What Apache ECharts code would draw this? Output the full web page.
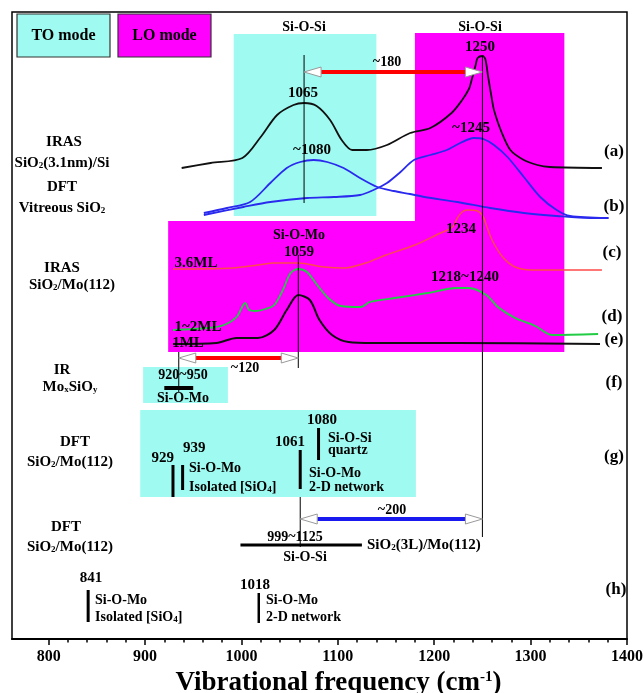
<!DOCTYPE html>
<html><head><meta charset="utf-8">
<script src="https://cdn.jsdelivr.net/npm/echarts@6/dist/echarts.min.js"></script>
<style>html,body{margin:0;padding:0;background:#fff}#c{width:644px;height:693px}</style>
</head><body><div id="c"></div>
<script>
// ---------- axis ----------
const X_MIN = 762, X_MAX = 1400;
const majorTicks = [800, 900, 1000, 1100, 1200, 1300, 1400];
const minorTicks = [820, 840, 860, 880, 920, 940, 960, 980, 1020, 1040, 1060, 1080,
  1120, 1140, 1160, 1180, 1220, 1240, 1260, 1280, 1320, 1340, 1360, 1380];

// ---------- spectra (wavenumber / relative intensity) ----------
// (a) IRAS SiO2(3.1nm)/Si
const aX = [938, 968, 1001, 1020, 1037, 1054, 1065, 1078, 1092, 1104, 1115, 1130, 1151, 1175, 1196, 1218, 1229, 1236, 1238, 1243, 1245, 1250, 1253, 1256, 1260, 1262, 1269, 1279, 1293, 1307, 1320, 1374];
const aY = [1, 6, 11, 32, 54, 64, 66, 63, 49, 29, 19, 19, 24, 36, 41, 56, 69, 80, 86, 104, 111, 113, 110, 92, 69, 59, 39, 19, 9, 4, 2, 1];
// (b) DFT vitreous SiO2, TO band
const b1X = [961, 985, 1009, 1030, 1047, 1061, 1075, 1089, 1106, 1123, 1141, 1158, 1175, 1190, 1224, 1258, 1293, 1327, 1362, 1381];
const b1Y = [5, 10, 16, 35, 50, 56, 58, 56, 50, 40, 31, 27, 24, 21, 16, 10, 5, 2, 0, 0];
// (b) DFT vitreous SiO2, LO band
const b2X = [961, 1002, 1030, 1068, 1096, 1123, 1137, 1151, 1165, 1179, 1196, 1213, 1227, 1241, 1251, 1262, 1276, 1293, 1310, 1327, 1341, 1379];
const b2Y = [3, 11, 16, 20, 21, 23, 28, 35, 46, 58, 63, 68, 75, 80, 79, 73, 61, 41, 21, 8, 2, 0];
// (c) IRAS 3.6 ML SiO2/Mo(112)
const cX = [929, 991, 1017, 1034, 1059, 1086, 1107, 1129, 1150, 1180, 1202, 1219, 1224, 1229, 1234, 1245, 1251, 1254, 1260, 1271, 1284, 1301, 1374];
const cY = [1, 2, 5, 7, 7, 3, 2, 7, 15, 25, 35, 43, 52, 58, 60, 59, 53, 45, 30, 13, 3, 0, 0];
// (d) IRAS 1~2 ML SiO2/Mo(112)
const dX = [929, 965, 982, 995, 1004, 1008, 1015, 1025, 1034, 1043, 1051, 1059, 1068, 1077, 1090, 1103, 1124, 1133, 1159, 1193, 1223, 1236, 1254, 1266, 1284, 1305, 1322, 1370];
const dY = [5, 7, 10, 18, 32, 25, 24, 26, 30, 45, 62, 66, 63, 52, 37, 29, 28, 33, 37, 42, 47, 47, 40, 28, 17, 9, 0, 1];
// (e) IRAS 1 ML SiO2/Mo(112)
const eX = [929, 974, 995, 1017, 1034, 1047, 1059, 1071, 1081, 1094, 1111, 1137, 1223, 1372];
const eY = [0, 1, 6, 6, 14, 34, 49, 44, 24, 9, 2, 1, 1, 0];

// vertical stacking of the traces (a.u.)
const baseline = { a: 470, b: 421, c: 369, d: 304, e: 295 };

// ---------- shaded mode regions [x0, x1, yLow, yHigh] ----------
const areaSpans = [[992, 1140, 423, 605], [1180, 1335, 418, 606], [924, 1335, 287, 418], [898, 986, 236, 272], [895, 1181, 142, 229]];
const areaModes = ['TO', 'LO', 'LO', 'TO', 'TO'];

// ---------- reference lines and band sticks [x0, y0, x1, y1] ----------
const stickPos = [
  [1065, 584, 1065, 436], [1250, 583, 1250, 102], [1059, 384, 1059, 271], [935, 287, 935, 247], [1061, 142, 1061, 92],
  [929, 174, 929, 142], [939, 174, 939, 149], [1061, 189, 1061, 150], [1080, 211, 1080, 179],
  [841, 49, 841, 17], [1018, 46, 1018, 16], [920, 251, 950, 251], [999, 94, 1125, 94]
];
const stickWidth = [1, 1, 1, 1, 1, 3, 3, 3, 3, 3, 2.5, 4, 3];

// ---------- TO-LO splitting arrows [from, to, level] ----------
const arrowPos = [[1065, 1250, 567], [935, 1059, 281], [1061, 1250, 120]];
const arrowColor = ['#ff0000', '#ff0000', '#1a1aee'];

const CYAN = '#9ffbf1', MAGENTA = '#ff00ff';
const FONT = "'Liberation Serif','Times New Roman',serif";

const trace = (xs, ys, off) => xs.map((x, i) => [x, ys[i] + off]);
function lineSeries(name, xs, ys, off, color, w) {
  return { name, type: 'line', data: trace(xs, ys, off), showSymbol: false, smooth: 0.3,
    lineStyle: { color, width: w }, z: 4, silent: true };
}

// ---------- text annotations [text, x, y, align, size] ----------
const notes = [
  ['Si-O-Si', 304, 27, 'center', 14], ['Si-O-Si', 480, 27, 'center', 14], ['1250', 480, 47, 'center', 15],
  ['~180', 387, 62, 'center', 14], ['1065', 303, 93, 'center', 15], ['~1080', 312, 150, 'center', 15],
  ['~1245', 471, 128, 'center', 15],
  ['IRAS', 64, 142, 'center', 15], ['SiO{s|2}(3.1nm)/Si', 62, 163, 'center', 15],
  ['DFT', 62, 187, 'center', 15], ['Vitreous SiO{s|2}', 62, 208, 'center', 15],
  ['(a)', 614, 152, 'center', 17], ['(b)', 614, 207, 'center', 17],
  ['Si-O-Mo', 299, 235, 'center', 14], ['1059', 299, 252, 'center', 15], ['1234', 461, 229, 'center', 15],
  ['3.6ML', 196, 263, 'center', 15], ['1218~1240', 465, 277, 'center', 15],
  ['IRAS', 62, 268, 'center', 15], ['SiO{s|2}/Mo(112)', 72, 285, 'center', 15],
  ['1~2ML', 198, 327, 'center', 15], ['1ML', 188, 343, 'center', 15],
  ['(c)', 612, 253, 'center', 17], ['(d)', 612, 317, 'center', 17], ['(e)', 614, 340, 'center', 17],
  ['~120', 245, 368, 'center', 14], ['IR', 62, 370, 'center', 15], ['Mo{s|x}SiO{s|y}', 70, 387, 'center', 15],
  ['920~950', 183, 375, 'center', 14], ['Si-O-Mo', 183, 398, 'center', 14], ['(f)', 614, 383, 'center', 17],
  ['1080', 322, 420, 'center', 15], ['Si-O-Si', 328, 438, 'left', 14], ['quartz', 328, 450, 'left', 14],
  ['1061', 305, 442, 'right', 15], ['929', 174, 458, 'right', 15], ['939', 183, 448, 'left', 15],
  ['Si-O-Mo', 189, 468, 'left', 14], ['Isolated [SiO{s|4}]', 189, 487, 'left', 14],
  ['Si-O-Mo', 309, 473, 'left', 14], ['2-D network', 309, 487, 'left', 14],
  ['DFT', 75, 442, 'center', 15], ['SiO{s|2}/Mo(112)', 70, 462, 'center', 15], ['(g)', 614, 457, 'center', 17],
  ['~200', 392, 510, 'center', 14], ['DFT', 66, 527, 'center', 15], ['SiO{s|2}/Mo(112)', 70, 547, 'center', 15],
  ['999~1125', 295, 537, 'center', 14], ['Si-O-Si', 305, 557, 'center', 14],
  ['SiO{s|2}(3L)/Mo(112)', 367, 545, 'left', 15], ['(h)', 616, 590, 'center', 17],
  ['841', 91, 578, 'center', 15], ['Si-O-Mo', 95, 600, 'left', 14], ['Isolated [SiO{s|4}]', 95, 617, 'left', 14],
  ['1018', 255, 585, 'center', 15], ['Si-O-Mo', 266, 600, 'left', 14], ['2-D network', 266, 617, 'left', 14]
];

function textEl(n) {
  const [text, x, y, align, size] = n;
  return { type: 'text', x, y, z: 20, silent: true,
    style: { text, fill: '#000', fontFamily: FONT, fontWeight: 'bold', fontSize: size,
      align, verticalAlign: 'middle',
      rich: { s: { fontFamily: FONT, fontWeight: 'bold', fontSize: Math.round(size * 0.62), verticalAlign: 'bottom' } } } };
}

function legendBox(label, x, fill) {
  return { type: 'group', z: 20, silent: true, children: [
    { type: 'rect', shape: { x, y: 14, width: 93, height: 43 }, style: { fill, stroke: '#333', lineWidth: 1.2 } },
    { type: 'text', x: x + 46.5, y: 36, style: { text: label, fill: '#000', fontFamily: FONT, fontWeight: 'bold', fontSize: 16, align: 'center', verticalAlign: 'middle' } }
  ] };
}

const chart = echarts.init(document.getElementById('c'));
chart.setOption({
  animation: false,
  grid: { left: 12, right: 17, top: 12, bottom: 54, containLabel: false, outerBoundsMode: 'none',
    show: true, borderColor: '#000', borderWidth: 1.5 },
  xAxis: [{
    type: 'value', min: X_MIN, max: X_MAX, position: 'bottom',
    axisLine: { show: true, lineStyle: { color: '#000', width: 2 } },
    axisTick: { show: true, customValues: majorTicks, length: 6, lineStyle: { color: '#000', width: 1.5 } },
    axisLabel: { customValues: majorTicks, formatter: v => String(v), margin: 10, color: '#000',
      fontFamily: FONT, fontWeight: 'bold', fontSize: 16 },
    splitLine: { show: false },
    name: 'Vibrational frequency (cm{sup|-1})', nameLocation: 'middle', nameGap: 25,
    nameTextStyle: { color: '#000', fontFamily: FONT, fontWeight: 'bold', fontSize: 27, padding: [0, 0, 0, 38],
      rich: { sup: { fontFamily: FONT, fontWeight: 'bold', fontSize: 15, verticalAlign: 'top' } } }
  }, {
    type: 'value', min: X_MIN, max: X_MAX, position: 'bottom',
    axisLine: { show: false },
    axisTick: { show: true, customValues: minorTicks, length: 3.5, lineStyle: { color: '#000', width: 1.5 } },
    axisLabel: { show: false }, splitLine: { show: false }
  }],
  yAxis: { type: 'value', min: 0, max: 627, show: false },
  series: [
    { type: 'custom', z: 1, silent: true, data: areaSpans,
      renderItem: (p, api) => {
        const a = api.coord([api.value(0), api.value(3)]);
        const b = api.coord([api.value(1), api.value(2)]);
        return { type: 'rect', shape: { x: a[0], y: a[1], width: b[0] - a[0], height: b[1] - a[1] },
          style: { fill: areaModes[p.dataIndex] === 'TO' ? CYAN : MAGENTA } };
      } },
    lineSeries('a', aX, aY, baseline.a, '#111', 1.8),
    lineSeries('b1', b1X, b1Y, baseline.b, '#2a2aee', 1.8),
    lineSeries('b2', b2X, b2Y, baseline.b, '#2a2aee', 1.8),
    lineSeries('c', cX, cY, baseline.c, '#ff4a4a', 1.5),
    lineSeries('d', dX, dY, baseline.d, '#22cc44', 1.8),
    lineSeries('e', eX, eY, baseline.e, '#111', 2),
    { type: 'custom', z: 6, silent: true, data: stickPos,
      renderItem: (p, api) => {
        const a = api.coord([api.value(0), api.value(1)]);
        const b = api.coord([api.value(2), api.value(3)]);
        return { type: 'line', shape: { x1: a[0], y1: a[1], x2: b[0], y2: b[1] },
          style: { stroke: '#000', lineWidth: stickWidth[p.dataIndex] } };
      } },
    { type: 'custom', z: 7, silent: true, data: arrowPos,
      renderItem: (p, api) => {
        const a = api.coord([api.value(0), api.value(2)]);
        const b = api.coord([api.value(1), api.value(2)]);
        const y = a[1], hl = 17, hh = 5;
        const head = { fill: '#fff', stroke: '#999', lineWidth: 1 };
        return { type: 'group', children: [
          { type: 'rect', shape: { x: a[0] + hl, y: y - 2, width: b[0] - a[0] - 2 * hl, height: 4 }, style: { fill: arrowColor[p.dataIndex] } },
          { type: 'polygon', shape: { points: [[a[0], y], [a[0] + hl, y - hh], [a[0] + hl, y + hh]] }, style: head },
          { type: 'polygon', shape: { points: [[b[0], y], [b[0] - hl, y - hh], [b[0] - hl, y + hh]] }, style: head }
        ] };
      } }
  ],
  graphic: [legendBox('TO mode', 17, CYAN), legendBox('LO mode', 118, MAGENTA)].concat(notes.map(textEl))
});
</script>
</body></html>
